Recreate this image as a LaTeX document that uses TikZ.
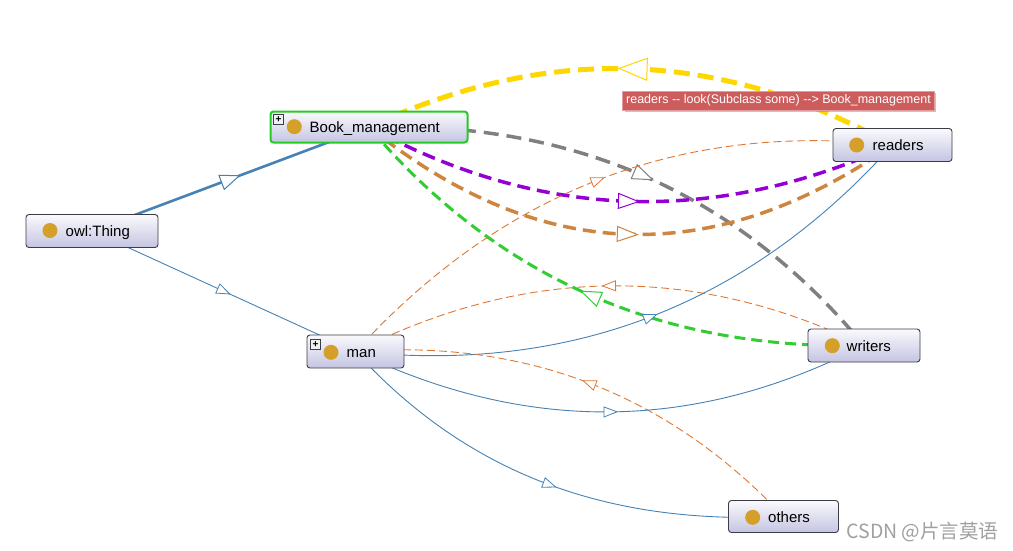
\documentclass[tikz,border=0pt]{standalone}
\usepackage{fontspec}
\setmainfont{Liberation Sans}
\newfontfamily\cjkfont{Noto Sans CJK SC}
\usetikzlibrary{decorations.markings,shadows}
\pgfdeclarelayer{bg}
\pgfdeclarelayer{edges}
\pgfsetlayers{bg,edges,main}
\definecolor{boxtop}{RGB}{250,250,253}
\definecolor{boxbot}{RGB}{196,196,226}
\definecolor{boxline}{RGB}{60,60,70}
\definecolor{dotcol}{RGB}{212,160,42}
\definecolor{selgreen}{RGB}{34,204,34}
\definecolor{ygold}{RGB}{255,215,0}
\definecolor{egray}{RGB}{128,128,128}
\definecolor{epurple}{RGB}{148,0,211}
\definecolor{eperu}{RGB}{205,133,63}
\definecolor{egreen}{RGB}{50,205,50}
\definecolor{eorange}{RGB}{224,120,52}
\definecolor{eblue}{RGB}{70,130,180}
\definecolor{tipred}{RGB}{205,92,92}
\definecolor{wmgray}{RGB}{160,160,160}
\tikzset{
  cls/.style={draw=boxline, line width=0.9pt, rounded corners=3pt, top color=boxtop, bottom color=boxbot, inner sep=0pt},
  clsdot/.style={circle, fill=dotcol, minimum size=15pt, inner sep=0pt},
  clstext/.style={anchor=base west, inner sep=0pt, font=\fontsize{15}{18}\selectfont, text=black},
  expander/.style={draw=boxline, fill=gray!12, line width=0.6pt, minimum size=9.5pt, inner sep=0pt, font=\fontsize{10}{10}\selectfont\bfseries},
  tiplabel/.style={fill=tipred, draw=tipred!60!white, line width=0.8pt, text=white, font=\fontsize{12.5}{15}\selectfont, inner xsep=3.5pt, inner ysep=0pt, minimum height=19pt, drop shadow={shadow xshift=2pt, shadow yshift=-2pt, opacity=0.45}},
  tri/.style n args={4}{postaction={decorate}, decoration={markings, mark=at position 0.5 with {\draw[solid, draw=#4, fill=white, line width=#3, line join=miter] (-#1/2,-#2/2) -- (#1/2,0) -- (-#1/2,#2/2) -- cycle;}}},
  thinblue/.style={eblue, line width=0.9pt, tri={13}{10}{0.8pt}{eblue}},
  thinorange/.style={eorange, line width=0.9pt, dash pattern=on 8pt off 4pt, tri={13}{10}{0.8pt}{eorange}},
}
\begin{document}
\begin{tikzpicture}[x=1pt,y=-1pt]
\useasboundingbox (0,0) rectangle (1013,550);
\begin{pgfonlayer}{bg}
\fill[white] (0,0) rectangle (1013,550);
\end{pgfonlayer}

% class boxes
\node[cls, draw=selgreen, line width=2pt, minimum width=197pt, minimum height=31pt] (bm) at (369,127) {};
\node[cls, minimum width=132pt, minimum height=33pt] (ot) at (92,231) {};
\node[cls, minimum width=97pt, minimum height=33pt] (man) at (355.5,351.5) {};
\node[cls, minimum width=119pt, minimum height=33pt] (rd) at (892.5,145) {};
\node[cls, minimum width=112pt, minimum height=33pt] (wr) at (864,345.5) {};
\node[cls, minimum width=110pt, minimum height=32pt] (oth) at (783.5,516.5) {};

% dots
\node[clsdot] (bmdot) at (294.3,126.7) {};
\node[clsdot] (otdot) at (50,230.5) {};
\node[clsdot] (mandot) at (331,352.3) {};
\node[clsdot] (rddot) at (856.7,145) {};
\node[clsdot] (wrdot) at (832.3,345.7) {};
\node[clsdot] (othdot) at (752.7,517.3) {};

% texts
\node[clstext] (bmtext) at (309.5,132.5) {Book\_management};
\node[clstext] (ottext) at (65.5,236) {owl:Thing};
\node[clstext] (mantext) at (346.5,357.5) {man};
\node[clstext] (rdtext) at (872.5,150.5) {readers};
\node[clstext] (wrtext) at (846.5,351) {writers};
\node[clstext] (othtext) at (768,522.5) {others};

% expanders
\node[expander] (bmplus) at (278.5,119.2) {+};
\node[expander] (manplus) at (315.5,344.2) {+};

% tooltip label
\node[tiplabel] (tip) at (778.5,100.5) {readers -{}- look(Subclass some) -{}-{}> Book\_management};

% watermark
\node[text=wmgray, font=\cjkfont\fontsize{19.5}{21}\selectfont, inner sep=0pt] (wm) at (922.5,532) {CSDN @片言莫语};

\begin{pgfonlayer}{edges}
% subclass edges
\draw[eblue, line width=2.6pt, tri={19}{15}{1pt}{eblue}] (ot.center) -- (bm.center);
\draw[thinblue] (ot.center) -- (man.center);
% object property edges from Book_management
\draw[ygold, line width=5pt, dash pattern=on 16pt off 8pt, tri={28}{22}{1pt}{ygold}] (rd.center) .. controls (722,51) and (552,42) .. (bm.center);
\draw[egray, line width=3.5pt, dash pattern=on 15pt off 8pt, tri={20}{15}{1pt}{egray}] (bm.center) .. controls (578,121) and (740,196) .. (wr.center);
\draw[epurple, line width=3.5pt, dash pattern=on 13pt off 7pt, tri={20}{15}{1pt}{epurple}] (bm.center) .. controls (540,220) and (714,226) .. (rd.center);
\draw[eperu, line width=3.5pt, dash pattern=on 13pt off 7pt, tri={20}{15}{1pt}{eperu}] (bm.center) .. controls (539,264) and (713,270) .. (rd.center);
\draw[egreen, line width=3pt, dash pattern=on 11pt off 6pt, tri={20}{15}{1pt}{egreen}] (wr.center) .. controls (661,350) and (496,277) .. (bm.center);
% man edges
\draw[thinorange] (man.center) .. controls (503,190) and (682,122) .. (rd.center);
\draw[thinorange] (wr.center) .. controls (695,264) and (525,266) .. (man.center);
\draw[thinblue] (man.center) .. controls (569,374) and (748,306) .. (rd.center);
\draw[thinorange] (oth.center) .. controls (668,394) and (526,339) .. (man.center);
\draw[thinblue] (man.center) .. controls (527,434) and (696,432) .. (wr.center);
\draw[thinblue] (man.center) .. controls (470,477) and (612,525) .. (oth.center);
\end{pgfonlayer}
\end{tikzpicture}
\end{document}
